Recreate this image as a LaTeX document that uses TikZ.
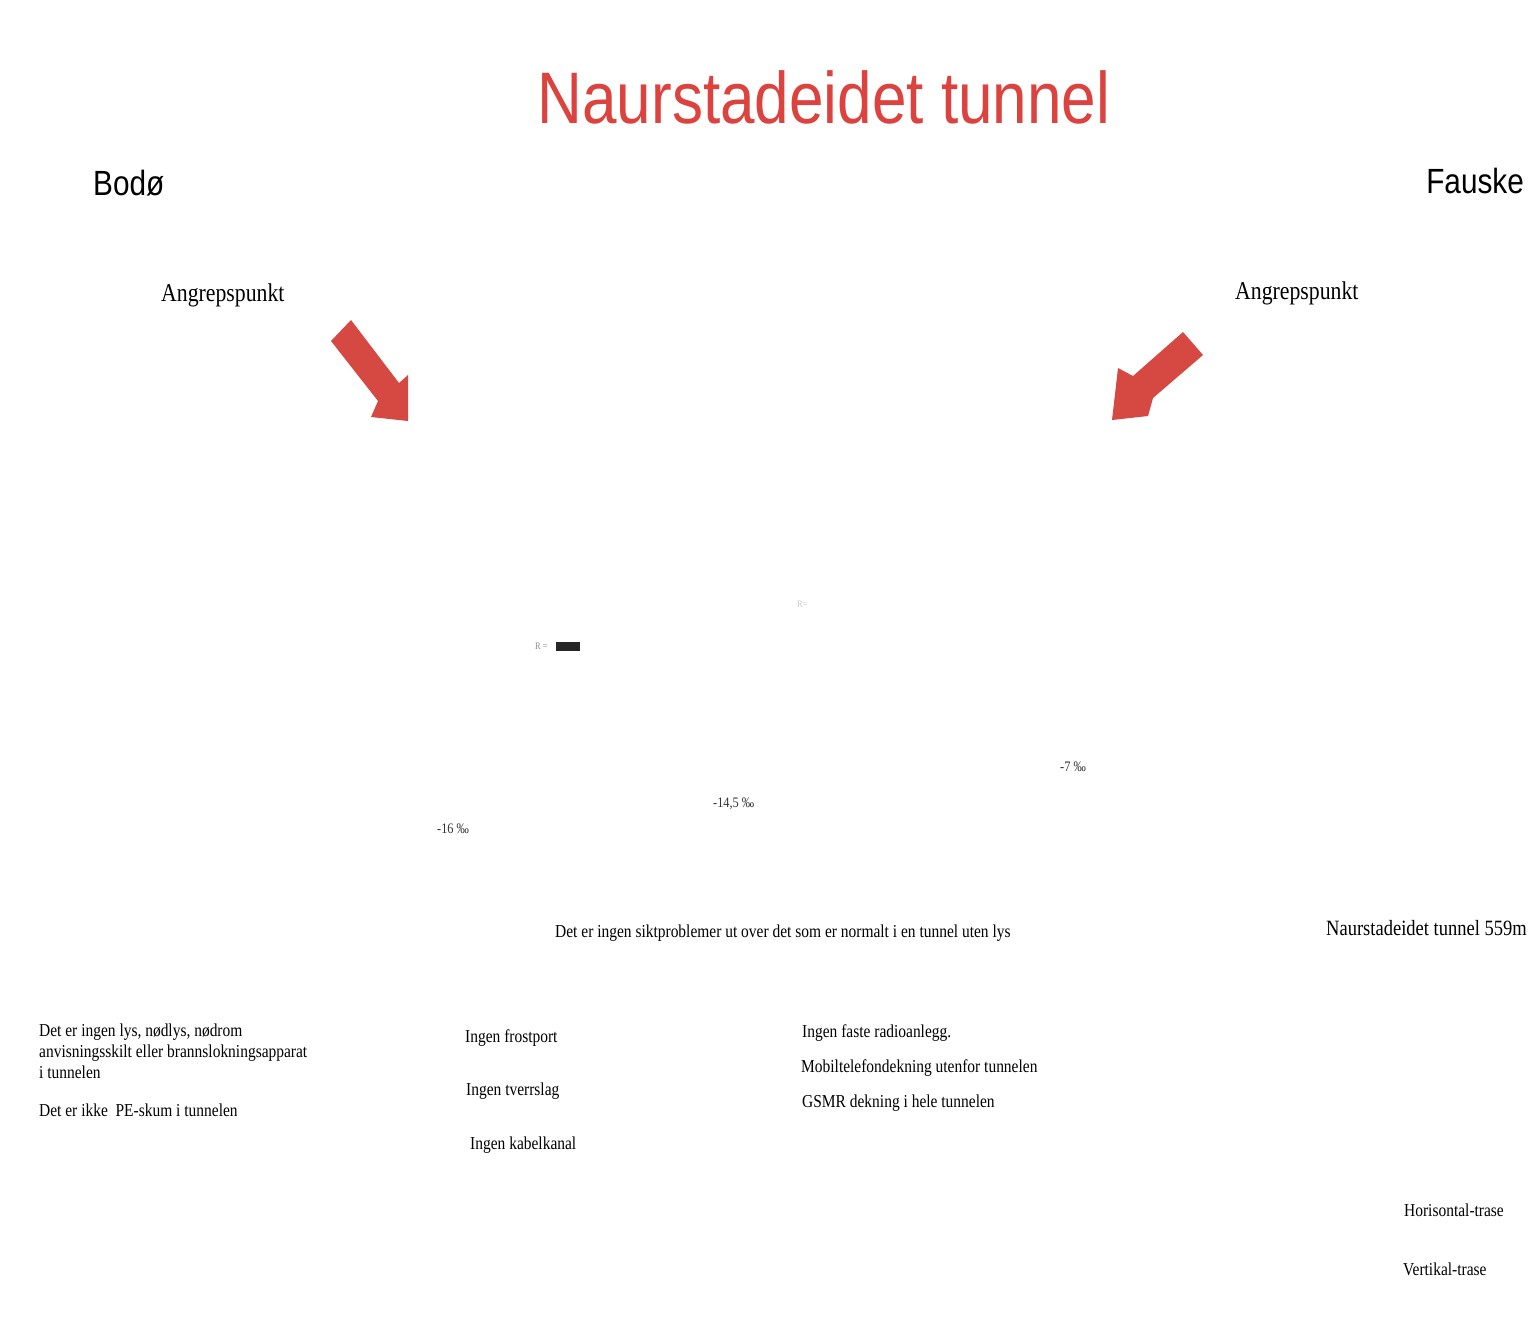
\documentclass[tikz,border=0pt]{standalone}
\usepackage{fontspec}
\setmainfont{Liberation Serif}
\newfontfamily\sansf{Liberation Sans}
\definecolor{titlered}{RGB}{220,66,62}
\definecolor{arrowred}{RGB}{214,72,66}
\begin{document}
\begin{tikzpicture}[x=1pt,y=-1pt,
  txt/.style={inner sep=0pt, anchor=west, xscale=0.85},
  big/.style={txt, font=\sansf\fontsize{35}{40}\selectfont},
  lab/.style={txt, font=\fontsize{25.6}{28}\selectfont},
  body/.style={txt, font=\fontsize{18.2}{21}\selectfont, align=left},
  grad/.style={txt, font=\fontsize{14.5}{16}\selectfont, text=black!80},
  redarrow/.style={fill=arrowred, draw=none}]
\useasboundingbox (0,0) rectangle (1533,1327);
\fill[white] (0,0) rectangle (1533,1327);

% title
\node[inner sep=0pt, xscale=0.85, text=titlered, font=\sansf\fontsize{73}{80}\selectfont] (title) at (824,97) {Naurstadeidet tunnel};

% towns
\node[big] (bodo) at (93,183) {Bodø};
\node[big, anchor=east] (fauske) at (1524,181) {Fauske};

% attack points
\node[lab] (ap1) at (161,295) {Angrepspunkt};
\node[lab] (ap2) at (1235,293) {Angrepspunkt};

% arrows
\fill[redarrow] (331,341) -- (351,320) -- (399,383) -- (408,375) -- (408,421) -- (371,417) -- (378,401) -- cycle;
\fill[redarrow] (1183,332) -- (1203,355) -- (1153,398) -- (1148,416) -- (1112,420) -- (1118,368) -- (1133,376) -- cycle;

% radius marks
\node[txt, font=\fontsize{10}{12}\selectfont, text=black!45] (r1) at (535,646) {R =};
\node[fill=black!85, minimum width=24pt, minimum height=9pt, inner sep=0pt, anchor=west] (r1box) at (556,646) {};
\node[txt, font=\fontsize{10}{12}\selectfont, text=black!20] (r2) at (797,604) {R=};

% gradients
\node[grad] (g1) at (437,829) {-16 ‰};
\node[grad] (g2) at (713,804) {-14,5 ‰};
\node[grad] (g3) at (1060,767) {-7 ‰};

% notes
\node[body] (sikt) at (555,933) {Det er ingen siktproblemer ut over det som er normalt i en tunnel uten lys};
\node[txt, font=\fontsize{21.8}{24}\selectfont] (len) at (1326,928) {Naurstadeidet tunnel 559m};

\node[body, anchor=north west] (l1) at (39,1024) {Det er ingen lys, nødlys, nødrom\\anvisningsskilt eller brannslokningsapparat\\i tunnelen};
\node[body] (l2) at (39,1110) {Det er ikke\ \ PE-skum i tunnelen};

\node[body] (m1) at (465,1038) {Ingen frostport};
\node[body] (m2) at (466,1091) {Ingen tverrslag};
\node[body] (m3) at (470,1145) {Ingen kabelkanal};

\node[body] (r1t) at (802,1033) {Ingen faste radioanlegg.};
\node[body] (r2t) at (801,1068) {Mobiltelefondekning utenfor tunnelen};
\node[body] (r3t) at (802,1103) {GSMR dekning i hele tunnelen};

\node[body] (hor) at (1404,1210) {Horisontal-trase};
\node[body] (ver) at (1403,1269) {Vertikal-trase};
\end{tikzpicture}
\end{document}
